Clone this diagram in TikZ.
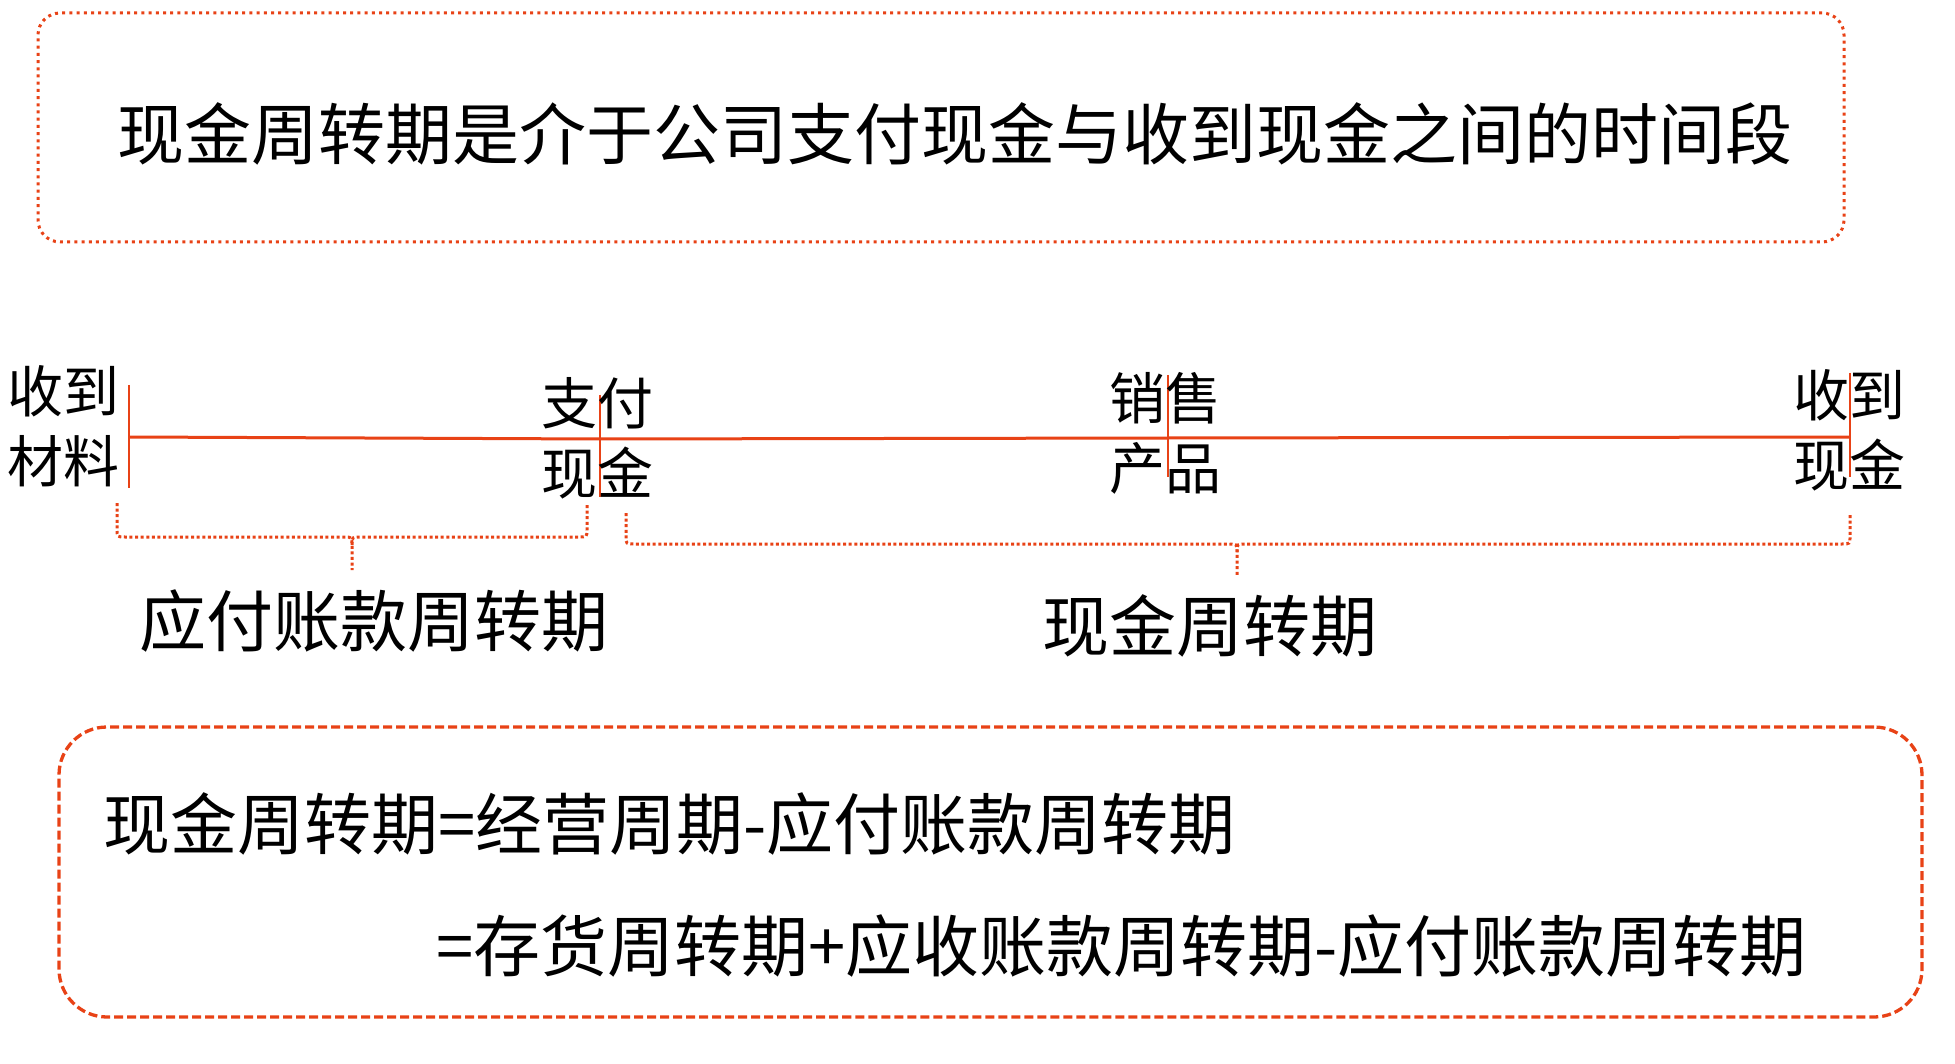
\documentclass[tikz,border=0pt]{standalone}
\usepackage{fontspec}
\setmainfont{Noto Sans CJK SC}
\definecolor{accent}{RGB}{232,66,22}
\begin{document}
\begin{tikzpicture}[x=1pt,y=-1pt,
  tlline/.style={draw=accent, line width=3pt},
  tickline/.style={draw=accent, line width=2.6pt},
  bracepath/.style={draw=accent, line width=3pt, dash pattern=on 3pt off 2.6pt},
  topbox/.style={draw=accent, line width=3pt, dash pattern=on 3pt off 4.2pt, rounded corners=22pt, inner sep=0pt},
  botbox/.style={draw=accent, line width=3.3pt, dash pattern=on 9pt off 4pt, rounded corners=48pt, inner sep=0pt},
  big/.style={inner sep=0pt, font=\fontsize{67}{80}\selectfont},
  lab/.style={inner sep=0pt, align=center, font=\fontsize{56}{70}\selectfont}]
\useasboundingbox (0,0) rectangle (1955,1064);
% boxes
\node[topbox, minimum width=1806pt, minimum height=229pt] (tb) at (941,127.5) {};
\node[botbox, minimum width=1863pt, minimum height=290pt] (bb) at (990.5,872) {};
% title
\node[big] (title) at (955,134) {现金周转期是介于公司支付现金与收到现金之间的时间段};
% timeline coordinates
\coordinate (t1a) at (129,385); \coordinate (t1b) at (129,488);
\coordinate (t2a) at (600,395); \coordinate (t2b) at (600,497);
\coordinate (t3a) at (1168,375); \coordinate (t3b) at (1168,477);
\coordinate (t4a) at (1850,373); \coordinate (t4b) at (1850,477);
\coordinate (m1) at (129,437); \coordinate (m2) at (600,439);
\coordinate (m3) at (1168,438); \coordinate (m4) at (1850,437);
\draw[tlline] (m1) -- (m2) -- (m3) -- (m4);
\draw[tickline] (t1a) -- (t1b);
\draw[tickline] (t2a) -- (t2b);
\draw[tickline] (t3a) -- (t3b);
\draw[tickline] (t4a) -- (t4b);
% labels
\node[lab] (l1) at (64,426) {收到\\材料};
\node[lab] (l2) at (597,438) {支付\\现金};
\node[lab] (l3) at (1165,433) {销售\\产品};
\node[lab] (l4) at (1849,430) {收到\\现金};
% braces
\coordinate (b1l) at (117,503); \coordinate (b1r) at (587,505); \coordinate (b1tip) at (352,570);
\coordinate (b2l) at (626,513); \coordinate (b2r) at (1850,515); \coordinate (b2tip) at (1237,577);
\draw[bracepath] (b1l) -- (117,529) .. controls (117,537) .. (125,537) -- (344,537) .. controls (352,537) .. (352,545) -- (b1tip);
\draw[bracepath] (b1r) -- (587,529) .. controls (587,537) .. (579,537) -- (360,537) .. controls (352,537) .. (352,545);
\draw[bracepath] (b2l) -- (626,536) .. controls (626,544) .. (634,544) -- (1229,544) .. controls (1237,544) .. (1237,552) -- (b2tip);
\draw[bracepath] (b2r) -- (1850,536) .. controls (1850,544) .. (1842,544) -- (1245,544) .. controls (1237,544) .. (1237,552);
\node[big] (p1) at (374,621) {应付账款周转期};
\node[big] (p2) at (1210,626) {现金周转期};
% formula
\node[big, anchor=west] (f1) at (103,824) {现金周转期=经营周期-应付账款周转期};
\node[big, anchor=west] (f2) at (436,946) {=存货周转期+应收账款周转期-应付账款周转期};
\end{tikzpicture}
\end{document}
